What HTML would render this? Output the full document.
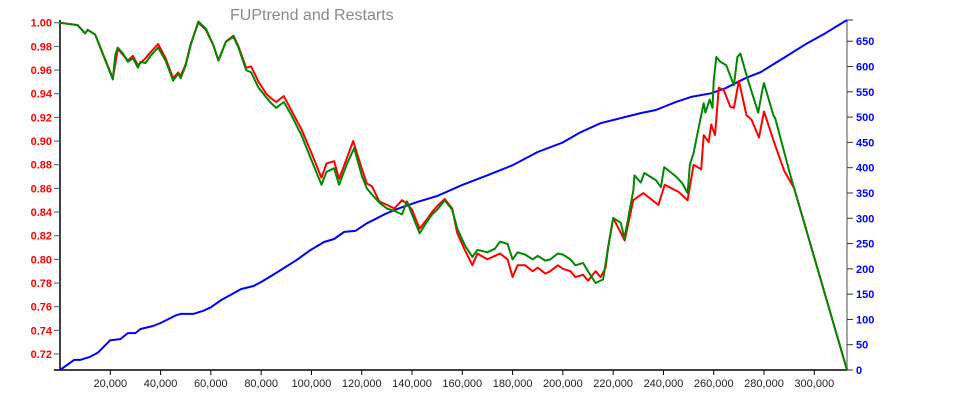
<!DOCTYPE html>
<html><head><meta charset="utf-8"><style>
body{margin:0;background:#fff}
svg{display:block;font-family:"Liberation Sans",Arial,sans-serif}
</style></head><body>
<svg id="chart" width="975" height="400" viewBox="0 0 975 400">
<text x="230" y="20" font-size="16" fill="#888">FUPtrend and Restarts</text>
</svg>
<script>
// x values in thousands
const greenX=[0,7,10,11,14,21,22,23,25,27,29,31,32,34,36,39,42,45,47,48,50,52,55,58,61,63,66,69,71,74,76,79,82,84,86,89,92,96,100,104,106,109,111,114,117,120,122,124,127,130,133,136,138,140,143,146,148,150,153,156,158,161,164,166,170,173,175,178,180,182,185,188,190,193,195,198,200,203,205,208,210,213,216,218,220,223,224.5,226,228,228.5,231,232.4,237,239,240.3,245,247.6,249.6,250.5,252,253.6,256,256.7,258.4,259.5,260,261,262.6,265,268,269.4,270.6,273,274.6,277.7,279.3,280,283.7,284.5,290.5,313];
const greenY=[1.000,.998,.991,.994,.990,.952,.973,.979,.974,.967,.970,.962,.967,.966,.972,.979,.968,.951,.957,.953,.964,.981,1.001,.995,.981,.968,.984,.988,.979,.960,.958,.945,.937,.932,.928,.933,.922,.905,.884,.863,.874,.877,.863,.880,.894,.871,.860,.855,.848,.843,.841,.838,.849,.838,.822,.832,.838,.842,.850,.842,.826,.812,.802,.808,.806,.809,.815,.813,.800,.806,.804,.800,.803,.799,.800,.805,.804,.800,.795,.797,.790,.780,.783,.810,.835,.831,.818,.835,.858,.871,.865,.873,.867,.861,.878,.870,.864,.856,.880,.890,.907,.932,.924,.935,.928,.951,.971,.967,.964,.947,.971,.974,.956,.945,.924,.943,.949,.922,.919,.871,.7065];
const redX=[0,7,10,11,14,21,22,23,25,27,29,31,32,34,36,39,42,45,47,48,50,52,55,58,61,63,66,69,71,74,76,79,82,84,86,89,92,96,100,104,106,109,111,114,116.6,120,122,124,127,130,133,136,138,140,143,146,148,150,153,156,158,161,164,166,170,173,175,178,180,182,185,188,190,193,195,198,200,203,205,208,210,213,215,217,218,220,224.6,228,232,238,240.5,246,249.6,252,255,256,258,259,260.5,262,264,266.6,268,270,273,275,278,280,284,288,292,313];
const redY=[1.000,.998,.991,.994,.990,.953,.965,.978,.973,.968,.972,.964,.966,.970,.975,.982,.970,.953,.958,.955,.965,.982,1.000,.994,.981,.968,.984,.989,.980,.962,.963,.950,.940,.936,.933,.938,.926,.910,.890,.869,.881,.883,.868,.885,.900,.877,.864,.862,.849,.846,.843,.850,.847,.842,.826,.834,.840,.845,.851,.843,.822,.808,.795,.805,.800,.803,.805,.800,.785,.795,.795,.790,.793,.788,.790,.795,.792,.790,.785,.787,.782,.790,.785,.793,.810,.835,.816,.850,.856,.846,.863,.857,.850,.880,.876,.905,.899,.914,.905,.945,.943,.929,.928,.951,.922,.918,.903,.925,.899,.875,.860,.7065];
const blueX=[0,5.6,8,12,15,20,24,27,30,32,37,40,46,48,53,57,60,64,72,77,80,86,94,99.6,105,109,113,117.5,122,126,130,135,142,150,160,170,180,190,200,207,215,223,231,237,245,251,259,264.6,272.6,278.7,288.5,296.5,304.4,313];
const blueY=[0,20,20,26,34,59,61,73,73,81,87,93,108,111,111,117,124,138,160,166,174,192,217,237,253,259,273,275,290,300,310,320,332,344,366,385,405,431,450,470,488,498,508,514,530,540,547,557,577,589,619,644,666,692];
const xTicks=[20000,40000,60000,80000,100000,120000,140000,160000,180000,200000,220000,240000,260000,280000,300000];
const leftTicks=[0.72,0.74,0.76,0.78,0.80,0.82,0.84,0.86,0.88,0.90,0.92,0.94,0.96,0.98,1.00];
const rightTicks=[0,50,100,150,200,250,300,350,400,450,500,550,600,650];

const L=60,R=847,T=20,B=370;
const xMax=313000, yMin=0.7065, yMax=1.0023, rMax=692;
const sx=v=>L+(v/xMax)*(R-L);
const sy=v=>B-(v-yMin)/(yMax-yMin)*(B-T);
const sr=v=>B-(v/rMax)*(B-T);
const NS='http://www.w3.org/2000/svg';
const svg=document.getElementById('chart');
function mk(tag,attrs,parent){const e=document.createElementNS(NS,tag);for(const k in attrs)e.setAttribute(k,attrs[k]);(parent||svg).appendChild(e);return e;}

// axes
const ax=mk('g',{});


mk('line',{x1:54,y1:B,x2:R,y2:B,stroke:'#000','stroke-width':1.5},ax);
xTicks.forEach(t=>{const x=sx(t);mk('line',{x1:x,y1:B,x2:x,y2:B+5,stroke:'#000'},ax);
 const tx=mk('text',{x:x,y:B+17,'font-size':11,'text-anchor':'middle',fill:'#222'},ax);
 
 
 tx.textContent=t.toLocaleString('en-US');});
const ly=mk('g',{});


mk('line',{x1:L,y1:T,x2:L,y2:B,stroke:'#000','stroke-width':1.5},ly);
leftTicks.forEach(t=>{const y=sy(t);mk('line',{x1:L-6,y1:y,x2:L,y2:y,stroke:'#555'},ly);
 const tx=mk('text',{x:L-8,y:y+4,'font-size':11,'font-weight':'bold','text-anchor':'end',fill:'#f00'},ly);
 
 
 tx.textContent=t.toFixed(2);});
const ry=mk('g',{});


mk('line',{x1:R,y1:T,x2:R,y2:B,stroke:'#888','stroke-width':1.5},ry);
mk('line',{x1:R,y1:T,x2:R+6,y2:T,stroke:'#333'},ry);
rightTicks.forEach(t=>{const y=sr(t);mk('line',{x1:R,y1:y,x2:R+6,y2:y,stroke:'#333'},ry);
 const tx=mk('text',{x:R+9,y:y+4,'font-size':11,'font-weight':'bold',fill:'#00f'},ry);
 
 
 tx.textContent=t;});

function line(xs,ys,scale,color,name){
 const d=xs.map((x,i)=>(i?'L':'M')+sx(x*1000).toFixed(1)+','+scale(ys[i]).toFixed(1)).join('');
 const p=mk('path',{d:d,fill:'none',stroke:color,'stroke-width':2,'stroke-linejoin':'round'});
 
 
}
line(blueX,blueY,sr,'#00f','restarts-line');
line(redX,redY,sy,'#f00','fuptrend-red-line');
line(greenX,greenY,sy,'#080','fuptrend-green-line');
</script>
</body></html>
